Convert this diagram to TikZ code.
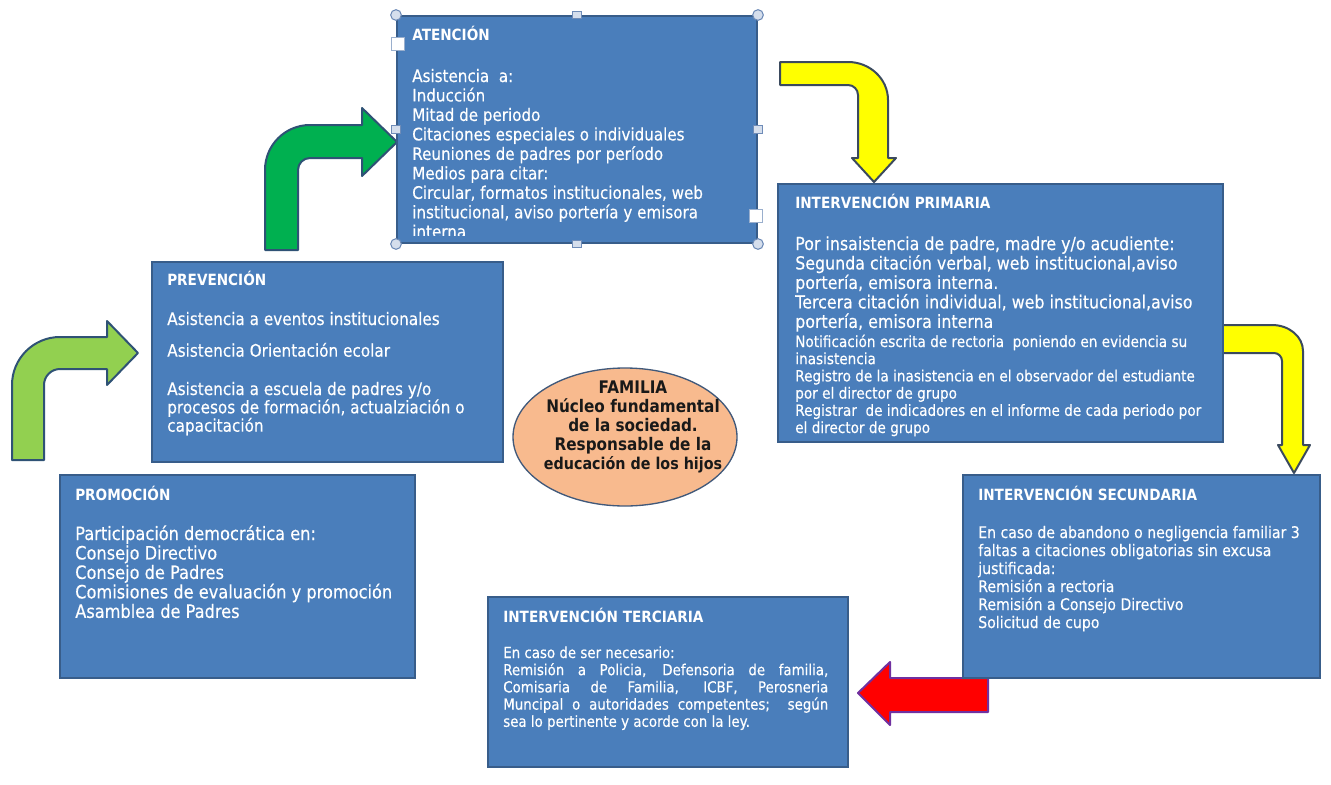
\documentclass[tikz,border=0pt]{standalone}
\usepackage{fontspec}
\setmainfont{DejaVu Sans}[FakeStretch=0.88, UprightFeatures={FakeBold=0.35}]
\usetikzlibrary{fit,shapes.geometric}
\definecolor{boxblue}{HTML}{4A7EBB}
\definecolor{boxline}{HTML}{385D8A}
\definecolor{famfill}{HTML}{F8BA8E}
\definecolor{famline}{HTML}{41597A}
\definecolor{lgreen}{HTML}{92D050}
\definecolor{dgreen}{HTML}{00B050}
\definecolor{greenline}{HTML}{2F5275}
\definecolor{yel}{HTML}{FFFF00}
\definecolor{yelline}{HTML}{3B4A5E}
\definecolor{redfill}{HTML}{FF0000}
\definecolor{redline}{HTML}{7030A0}
\definecolor{handlefill}{HTML}{D5DEEC}
\definecolor{handleline}{HTML}{6F8CB8}
\tikzset{
  box/.style={draw=boxline, line width=1.5pt, fill=boxblue, inner sep=0pt},
  ttl/.style={anchor=base west, inner sep=0pt, text=white, font=\bfseries\fontsize{11.6}{14}\selectfont},
  body/.style={anchor=base west, inner sep=0pt, text=white},
  blockarrow/.style={line width=1.5pt, line join=round},
  cornerhandle/.style={circle, draw=handleline, fill=handlefill, line width=0.8pt, minimum size=8pt, inner sep=0pt},
  midhandle/.style={rectangle, draw=handleline, fill=handlefill, line width=0.8pt, minimum width=6.5pt, minimum height=5.5pt, inner sep=0pt},
  texthandle/.style={rectangle, draw=handleline!70, fill=white, line width=0.6pt, minimum size=10pt, inner sep=0pt}
}
\begin{document}
\begin{tikzpicture}[x=0.75pt,y=-0.75pt]
\useasboundingbox (0,0) rectangle (1331,785);
\fill[white] (0,0) rectangle (1331,785);

% block arrows
\filldraw[blockarrow, draw=greenline, fill=lgreen] (12,460) -- (12,385) .. controls (12,358.5) and (33.5,337) .. (60,337) -- (107,337) -- (107,321) -- (138,353) -- (107,385) -- (107,369) -- (60,369) .. controls (51.2,369) and (44,376.2) .. (44,385) -- (44,460) -- cycle;
\filldraw[blockarrow, draw=greenline, fill=dgreen] (265,250) -- (265,170) .. controls (265,145.1) and (285.1,125) .. (310,125) -- (362,125) -- (362,108) -- (397,142) -- (362,176) -- (362,158) -- (310,158) .. controls (303.4,158) and (298,163.4) .. (298,170) -- (298,250) -- cycle;
\filldraw[blockarrow, draw=yelline, fill=yel] (780,62) -- (848,62) .. controls (870.1,62) and (888,79) .. (888,100) -- (888,158) -- (896,158) -- (874,182) -- (852,158) -- (858,158) -- (858,95) .. controls (858,89.5) and (853.5,85) .. (848,85) -- (780,85) -- cycle;
\filldraw[blockarrow, draw=yelline, fill=yel] (1215,325) -- (1272,325) .. controls (1289.1,325) and (1303,336.6) .. (1303,351) -- (1303,445) -- (1310,445) -- (1294,473) -- (1278,445) -- (1282,445) -- (1282,361) .. controls (1282,356.6) and (1278.4,353) .. (1274,353) -- (1215,353) -- cycle;
\filldraw[blockarrow, draw=redline, fill=redfill] (858,693) -- (890,662) -- (890,678) -- (988,678) -- (988,712) -- (890,712) -- (890,725) -- cycle;

% boxes
\node[box, fit={(397,16) (757,243)}] (aten) {};
\node[box, fit={(778,184) (1223,442)}] (prim) {};
\node[box, fit={(152,262) (503,462)}] (prev) {};
\node[box, fit={(60,475) (415,678)}] (prom) {};
\node[box, fit={(963,475) (1320,678)}] (secu) {};
\node[box, fit={(488,597) (848,767)}] (terc) {};

% ellipse
\node[ellipse, draw=famline, line width=1pt, fill=famfill, minimum width=168pt, minimum height=103.5pt, inner sep=0pt] (fam) at (625,437) {};
\node[anchor=base, inner sep=0pt, text=black!90, font=\bfseries\fontsize{13}{14.25}\selectfont] (famtext) at (633,393)
  {\parbox[t]{220pt}{\centering FAMILIA\\Núcleo fundamental\\de la sociedad.\\Responsable de la\\{\fontsize{12.2}{14.25}\selectfont educación de los hijos}}};

% ATENCION text (clipped by its box)
\node[ttl] (atenT) at (412,40) {ATENCIÓN};
\begin{scope}
\clip (397,16) rectangle (757,235);
\node[body, font=\fontsize{12.9}{14.6}\selectfont] (atenB) at (412,82)
  {\parbox[t]{330pt}{\raggedright Asistencia\ \ a:\\Inducción\\Mitad de periodo\\Citaciones especiales o individuales\\Reuniones de padres por período\\Medios para citar:\\Circular, formatos institucionales, web\\institucional, aviso portería y emisora\\interna}};
\end{scope}

% INTERVENCION PRIMARIA
\node[ttl] (primT) at (795,208) {INTERVENCIÓN PRIMARIA};
\node[body, font=\fontsize{13.5}{14.6}\selectfont] (primB) at (795,250)
  {\parbox[t]{400pt}{\raggedright Por insaistencia de padre, madre y/o acudiente:\\Segunda citación verbal, web institucional,aviso\\portería, emisora interna.\\Tercera citación individual, web institucional,aviso\\portería, emisora interna}};
\node[body, font=\fontsize{11.6}{12.9}\selectfont] (primS) at (795,347)
  {\parbox[t]{400pt}{\raggedright Notificación escrita de rectoria\ \ poniendo en evidencia su\\inasistencia\\Registro de la inasistencia en el observador del estudiante\\por el director de grupo\\Registrar\ \ de indicadores en el informe de cada periodo por\\el director de grupo}};

% PREVENCION
\node[ttl] (prevT) at (167,285) {PREVENCIÓN};
\node[body, font=\fontsize{13}{13.75}\selectfont] (prevB) at (167,325)
  {\parbox[t]{330pt}{\raggedright Asistencia a eventos institucionales\\[10pt]Asistencia Orientación ecolar\\[15pt]Asistencia a escuela de padres y/o\\procesos de formación, actualziación o\\capacitación}};

% PROMOCION
\node[ttl] (promT) at (75,500) {PROMOCIÓN};
\node[body, font=\fontsize{13.8}{14.6}\selectfont] (promB) at (75,540)
  {\parbox[t]{330pt}{\raggedright Participación democrática en:\\Consejo Directivo\\Consejo de Padres\\Comisiones de evaluación y promoción\\Asamblea de Padres}};

% SECUNDARIA
\node[ttl] (secuT) at (978,500) {INTERVENCIÓN SECUNDARIA};
\node[body, font=\fontsize{12}{13.5}\selectfont] (secuB) at (978,538)
  {\parbox[t]{330pt}{\raggedright En caso de abandono o negligencia familiar 3\\faltas a citaciones obligatorias sin excusa\\justificada:\\Remisión a rectoria\\Remisión a Consejo Directivo\\Solicitud de cupo}};

% TERCIARIA
\node[ttl] (tercT) at (503,622) {INTERVENCIÓN TERCIARIA};
\node[body, font=\fontsize{11.4}{12.9}\selectfont] (tercB) at (503,658)
  {\parbox[t]{243.75pt}{En caso de ser necesario:\\Remisión a Policia, Defensoria de familia,\linebreak Comisaria de Familia, ICBF, Perosneria\linebreak Muncipal o autoridades competentes;\ \ según\linebreak sea lo pertinente y acorde con la ley.}};

% selection handles of the ATENCION box
\node[cornerhandle] (h1) at (aten.north west) {};
\node[cornerhandle] (h2) at (aten.north east) {};
\node[cornerhandle] (h3) at (aten.south west) {};
\node[cornerhandle] (h4) at (aten.south east) {};
\node[midhandle] (h5) at (aten.north) {};
\node[midhandle] (h6) at (aten.south) {};
\node[midhandle] (h7) at (aten.west) {};
\node[midhandle] (h8) at (aten.east) {};
\node[texthandle] (h9) at (398,44) {};
\node[texthandle] (h10) at (756,216) {};
\end{tikzpicture}
\end{document}
